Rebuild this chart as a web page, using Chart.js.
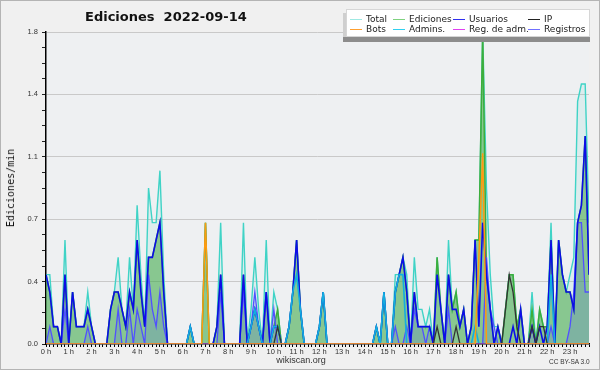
<!DOCTYPE html>
<html><head><meta charset="utf-8">
<script src="https://cdn.jsdelivr.net/npm/chart.js@4.4.1/dist/chart.umd.min.js"></script>
<style>
html,body{margin:0;padding:0;background:#f0f0f0;}
#wrap{position:relative;width:600px;height:370px;overflow:hidden;background:#f0f0f0;}
#frame{position:absolute;left:0;top:0;width:600px;height:370px;box-sizing:border-box;border:1px solid #b4b4b4;pointer-events:none;}
canvas{position:absolute;left:0;top:0;}
.t{position:absolute;white-space:pre;font-family:"Liberation Sans",Arial,sans-serif;line-height:1;}
#title{left:85px;top:10px;font-weight:bold;font-size:13px;font-family:"DejaVu Sans",sans-serif;color:#111;}
#ytitle{left:11px;top:188px;font-family:"DejaVu Sans Mono",monospace;font-size:10px;color:#111;transform:translate(-50%,-50%) rotate(-90deg);}
#site{left:301px;top:356px;font-size:9px;color:#333;transform:translateX(-50%);}
#lic{left:549px;top:359px;font-size:6.5px;color:#333;}
#lshadow{position:absolute;left:343px;top:13px;width:247px;height:29px;background:#8c8c8c;}
#lshadow2{position:absolute;left:343px;top:13px;width:3px;height:24px;background:#cfcfcf;}
#legend{position:absolute;left:346px;top:9px;width:244px;height:28px;background:#fff;box-sizing:border-box;border:1px solid #d6d6d6;}
.li{position:absolute;font-family:"DejaVu Sans",sans-serif;font-size:9px;color:#222;line-height:1;white-space:nowrap;}
.ls{position:absolute;height:1px;width:12px;}
</style>
</head><body>
<div id="wrap">
<canvas id="c" width="600" height="370"></canvas>
<div class="t" id="title">Ediciones  2022-09-14</div>
<div class="t" id="ytitle">Ediciones/min</div>
<div class="t" id="site">wikiscan.org</div>
<div class="t" id="lic">CC BY-SA 3.0</div>
<div id="lshadow"></div><div id="lshadow2"></div>
<div id="legend"></div>
<div id="frame"></div>
</div>
<script>
const hourLabels = ["0 h","1 h","2 h","3 h","4 h","5 h","6 h","7 h","8 h","9 h","10 h","11 h","12 h","13 h","14 h","15 h","16 h","17 h","18 h","19 h","20 h","21 h","22 h","23 h"];
const yLabels = ["0.0","0.4","0.7","1.1","1.4","1.8"];
const seriesNames = ["Total","Ediciones","Usuarios","IP","Bots","Admins.","Reg. de adm.","Registros"];

// edits per minute, 10-minute bins (6 per hour)
const total = [
 0.4,0.4,0.1,0.1,0,0.6,
 0,0.3,0.1,0.1,0.1,0.3,
 0.1,0,0,0,0,0.2,
 0.3,0.5,0.2,0.1,0.5,0.2,
 0.8,0.4,0.1,0.9,0.7,0.7,
 1.0,0.4,0,0,0,0,
 0,0,0.1,0,0,0,
 0.7,0,0,0.1,0.7,0,
 0,0,0,0,0.7,0,
 0.2,0.5,0.2,0,0.6,0,
 0.3,0.2,0,0,0.1,0.3,
 0.6,0.2,0,0,0,0,
 0.1,0.3,0,0,0,0,
 0,0,0,0,0,0,
 0,0,0,0.1,0,0.3,
 0,0,0.4,0.4,0.5,0.4,
 0,0.5,0.2,0.2,0.1,0.2,
 0,0.5,0.2,0,0.6,0.2,
 0.3,0.1,0.2,0,0.1,0.6,
 0.6,1.8,0.9,0.4,0.1,0.1,
 0,0.2,0.4,0.4,0.1,0.2,
 0,0,0.3,0,0.2,0.1,
 0.1,0.7,0,0.6,0.4,0.3,
 0.4,0.5,1.4,1.5,1.5,0.7];
const edits = [
 0.4,0.3,0.1,0.1,0,0.4,
 0,0.3,0.1,0.1,0.1,0.2,
 0.1,0,0,0,0,0.2,
 0.3,0.3,0.2,0.1,0.3,0.2,
 0.6,0.3,0.1,0.5,0.5,0.6,
 0.7,0.3,0,0,0,0,
 0,0,0.1,0,0,0,
 0.7,0,0,0.1,0.4,0,
 0,0,0,0,0.4,0,
 0.1,0.2,0.1,0,0.3,0,
 0.1,0.2,0,0,0.1,0.3,
 0.6,0.2,0,0,0,0,
 0.1,0.3,0,0,0,0,
 0,0,0,0,0,0,
 0,0,0,0.1,0,0.3,
 0,0,0.3,0.4,0.5,0.3,
 0,0.3,0.1,0.1,0.1,0.1,
 0,0.5,0.2,0,0.4,0.2,
 0.3,0.1,0.2,0,0.1,0.6,
 0.6,1.8,0.4,0.2,0,0.1,
 0,0.2,0.4,0.4,0.1,0.2,
 0,0,0.2,0,0.2,0.1,
 0.1,0.6,0,0.6,0.4,0.3,
 0.3,0.2,0.7,0.8,1.2,0.4];
const users = [
 0.4,0.3,0.1,0.1,0,0.4,
 0,0.3,0.1,0.1,0.1,0.2,
 0.1,0,0,0,0,0.2,
 0.3,0.3,0.2,0.1,0.3,0.2,
 0.6,0.3,0.1,0.5,0.5,0.6,
 0.7,0.3,0,0,0,0,
 0,0,0.1,0,0,0,
 0,0,0,0.1,0.4,0,
 0,0,0,0,0.4,0,
 0.1,0.2,0.1,0,0.3,0,
 0.1,0.1,0,0,0.1,0.3,
 0.6,0.2,0,0,0,0,
 0.1,0.3,0,0,0,0,
 0,0,0,0,0,0,
 0,0,0,0.1,0,0.3,
 0,0,0.3,0.4,0.5,0.3,
 0,0.3,0.1,0.1,0.1,0.1,
 0,0.4,0.2,0,0.4,0.2,
 0.2,0.1,0.2,0,0.1,0.6,
 0.1,0.7,0.4,0.2,0,0.1,
 0,0,0,0.1,0,0.2,
 0,0,0.1,0,0.1,0,
 0.1,0.6,0,0.6,0.4,0.3,
 0.3,0.2,0.7,0.8,1.2,0.4];
const ip = [
 0,0,0,0,0,0, 0,0,0,0,0,0, 0,0,0,0,0,0, 0,0,0,0,0,0,
 0,0,0,0,0,0, 0,0,0,0,0,0, 0,0,0,0,0,0, 0,0,0,0,0,0,
 0,0,0,0,0,0, 0,0,0,0,0,0, 0,0.1,0,0,0,0, 0,0,0,0,0,0,
 0,0,0,0,0,0, 0,0,0,0,0,0, 0,0,0,0,0,0, 0,0,0,0,0,0,
 0,0,0,0,0,0, 0,0.1,0,0,0,0, 0.1,0,0,0,0,0, 0,0,0,0,0,0,
 0,0.2,0.4,0.3,0.1,0, 0,0,0.1,0,0.1,0.1, 0,0,0,0,0,0, 0,0,0,0,0,0];
const bots = [
 0,0,0,0,0,0, 0,0,0,0,0,0, 0,0,0,0,0,0, 0,0,0,0,0,0,
 0,0,0,0,0,0, 0,0,0,0,0,0, 0,0,0,0,0,0, 0.7,0,0,0,0,0,
 0,0,0,0,0,0, 0,0,0,0,0,0, 0,0,0,0,0,0, 0,0,0,0,0,0,
 0,0,0,0,0,0, 0,0,0,0,0,0, 0,0,0,0,0,0, 0,0,0,0,0,0,
 0,0,0,0,0,0, 0,0,0,0,0,0, 0,0,0,0,0,0, 0.5,1.1,0,0,0,0,
 0,0,0,0,0,0, 0,0,0,0,0,0, 0,0,0,0,0,0, 0,0,0,0,0,0];
const admins = [
 0,0,0,0,0,0, 0,0,0,0,0,0, 0,0,0,0,0,0, 0,0,0,0,0,0,
 0,0,0,0,0,0, 0,0,0,0,0,0, 0,0,0.1,0,0,0, 0,0,0,0,0,0,
 0,0,0,0,0,0, 0.1,0.2,0.1,0,0,0, 0.1,0.1,0,0,0.1,0.3, 0.4,0.2,0,0,0,0,
 0.1,0.3,0,0,0,0, 0,0,0,0,0,0, 0,0,0,0.1,0,0.3, 0,0,0.3,0.4,0.4,0,
 0,0,0,0,0,0, 0,0,0,0,0,0, 0,0,0,0,0,0.1, 0,0,0,0,0,0,
 0,0,0,0,0,0, 0,0,0,0,0,0, 0,0.4,0,0,0,0, 0,0,0,0,0,0];
const adminLogs = [
 0,0,0,0,0,0, 0,0,0,0,0,0, 0,0,0,0,0,0, 0,0,0,0,0,0,
 0,0,0,0,0,0, 0,0,0,0,0,0, 0,0,0,0,0,0, 0,0,0,0,0,0,
 0,0,0,0,0,0, 0,0,0,0,0,0, 0,0,0,0,0,0, 0,0,0,0,0,0,
 0,0,0,0,0,0, 0,0,0,0,0,0, 0,0,0,0,0,0, 0,0,0,0,0,0,
 0,0,0,0,0,0, 0,0,0,0,0,0, 0,0,0,0,0,0, 0,0,0,0,0,0,
 0,0,0,0,0,0, 0,0,0,0,0,0, 0,0,0,0,0,0, 0,0,0,0,0,0];
const logs = [
 0,0.1,0,0,0,0.2,
 0,0,0,0,0,0.1,
 0,0,0,0,0,0,
 0,0.2,0,0,0.2,0,
 0.2,0.1,0,0.4,0.2,0.1,
 0.3,0.1,0,0,0,0,
 0,0,0,0,0,0,
 0,0,0,0,0.3,0,
 0,0,0,0,0.3,0,
 0.1,0.3,0.1,0,0.3,0,
 0.2,0,0,0,0,0,
 0,0,0,0,0,0,
 0,0,0,0,0,0,
 0,0,0,0,0,0,
 0,0,0,0,0,0,
 0,0,0.1,0,0,0.1,
 0,0.2,0.1,0.1,0,0.1,
 0,0,0,0,0.2,0,
 0,0,0,0,0,0,
 0,0,0.5,0.2,0.1,0,
 0,0,0,0,0,0,
 0,0,0.1,0,0,0,
 0,0.1,0,0,0,0,
 0.1,0.3,0.7,0.7,0.3,0.3];

const lineColors = ["#3fd3c6","#3cae3c","#0c0ce8","#333333","#ff9a10","#12aee0","#e040f0","#5050ff"];
const legendColors = ["#9fe9e3","#7fd27f","#3030f0","#222222","#ffa030","#30d0f0","#e040f0","#7070ff"];

// legend (HTML)
const leg = document.getElementById('legend');
const colX = [3, 46, 106, 181];
const rowY = [9, 19];
seriesNames.forEach((n, i) => {
  const col = i % 4, row = Math.floor(i / 4);
  const s = document.createElement('div'); s.className = 'ls';
  s.style.left = colX[col] + 'px'; s.style.top = rowY[row] + 'px'; s.style.background = legendColors[i];
  leg.appendChild(s);
  const t = document.createElement('div'); t.className = 'li'; t.textContent = n;
  t.style.left = (colX[col] + 16) + 'px'; t.style.top = (rowY[row] - 4) + 'px';
  leg.appendChild(t);
});

const pts = arr => arr.map((v, i) => ({x: i, y: v}));
const ds = (idx, data, opts) => Object.assign({
  label: seriesNames[idx], data: pts(data), borderColor: lineColors[idx],
  borderWidth: 1.5, pointRadius: 0, tension: 0, fill: false
}, opts);

const bgPlugin = {
  id: 'bg',
  beforeDraw(chart) {
    const {ctx, chartArea: a} = chart;
    ctx.save(); ctx.fillStyle = '#eef0f2';
    ctx.fillRect(a.left, a.top, a.right - a.left, a.bottom - a.top);
    ctx.restore();
  }
};

new Chart(document.getElementById('c'), {
  type: 'line',
  data: {
    datasets: [
      ds(0, total, {order: 7, fill: 'origin', backgroundColor: 'rgba(64,208,200,0.10)', borderWidth: 1.4}),
      ds(1, edits, {order: 6, fill: 'origin', backgroundColor: 'rgba(60,165,60,0.52)', borderWidth: 1.5}),
      ds(7, logs, {order: 5, fill: 'origin', backgroundColor: 'rgba(90,100,230,0.20)', borderWidth: 1.3}),
      ds(2, users, {order: 4, borderWidth: 1.6}),
      ds(5, admins, {order: 3, borderWidth: 1.6}),
      ds(3, ip, {order: 2, borderWidth: 1.3}),
      ds(6, adminLogs, {order: 1, borderWidth: 1}),
      ds(4, bots, {order: 0, borderWidth: 1.5})
    ]
  },
  options: {
    responsive: false, animation: false, devicePixelRatio: 1,
    layout: {padding: {left: 0, right: 11, top: 32, bottom: 0}},
    plugins: {legend: {display: false}, title: {display: false}, tooltip: {enabled: false}},
    scales: {
      x: {
        type: 'linear', min: 0, max: 143, z: 1,
        afterFit: s => { s.height = 26; },
        border: {display: true, color: '#000', width: 1.5},
        grid: {drawOnChartArea: false, tickLength: 3, tickColor: '#000'},
        ticks: {
          stepSize: 1, autoSkip: false, maxRotation: 0, minRotation: 0, padding: 0,
          color: '#333', font: {family: 'Liberation Sans', size: 7.5},
          callback: (v) => (v % 6 === 0 ? hourLabels[v / 6] : '')
        }
      },
      y: {
        min: 0, max: 1.8,
        afterFit: s => { s.width = 46; },
        border: {display: true, color: '#000', width: 1.5},
        grid: {
          color: c => (c.index % 4 === 0 && c.index > 0) ? '#c9c9c9' : 'rgba(0,0,0,0)',
          tickColor: '#222', tickLength: 4, lineWidth: 1
        },
        ticks: {
          stepSize: 0.09, autoSkip: false, padding: 4,
          color: '#333', font: {family: 'Liberation Sans', size: 7.5},
          callback: (v, i) => (i % 4 === 0 ? yLabels[i / 4] : '')
        }
      }
    }
  },
  plugins: [bgPlugin]
});
</script>
</body></html>
